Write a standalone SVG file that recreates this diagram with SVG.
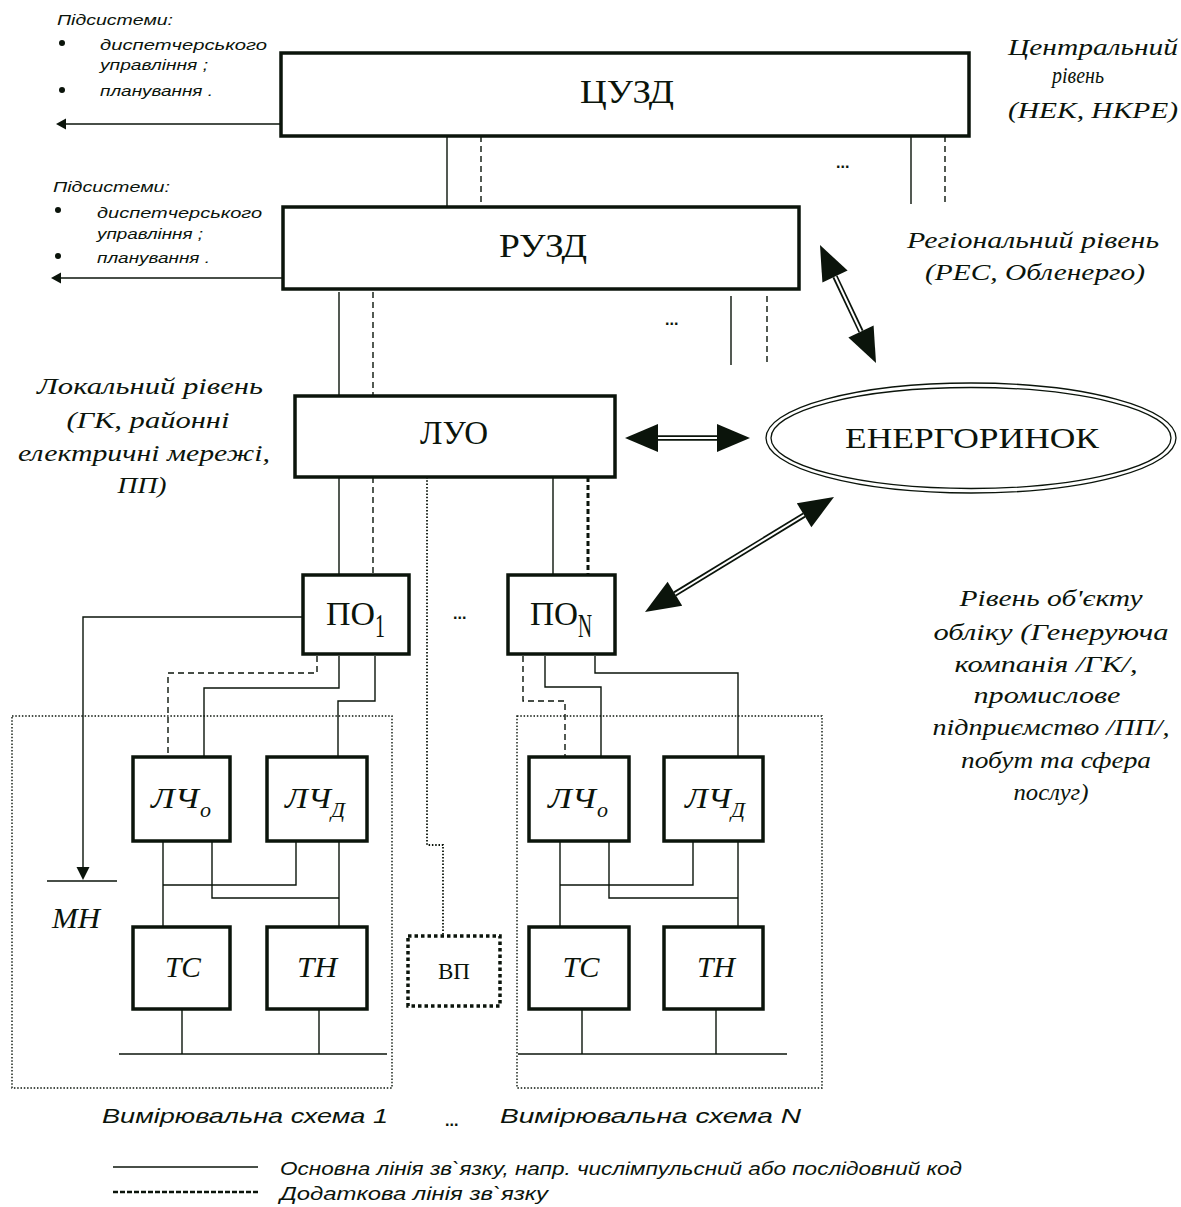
<svg xmlns="http://www.w3.org/2000/svg" width="1181" height="1207" viewBox="0 0 1181 1207">
<style>
.box{fill:#fff;stroke:#0b140b;stroke-width:3.5}
.ln{fill:none;stroke:#0b140b;stroke-width:1.4}
.dash{stroke-dasharray:6 4}
.tdash{stroke-width:3;stroke-dasharray:5 3}
.dot{stroke-dasharray:1.5 1.8}
.vp{fill:#fff;stroke:#0b140b;stroke-width:3.5;stroke-dasharray:3.5 3}
.fill{fill:#0b140b;stroke:none}
.mono{font-family:"Liberation Serif",serif;font-size:34px;fill:#0b140b}
.ser{font-family:"Liberation Serif",serif;fill:#0b140b}
.si{font-family:"Liberation Serif",serif;font-style:italic;font-size:23px;fill:#0b140b}
.bi{font-family:"Liberation Serif",serif;font-style:italic;font-size:30px;fill:#0b140b}
.sub{font-family:"Liberation Serif",serif;font-style:italic;font-size:22px;fill:#0b140b}
.sa{font-family:"Liberation Sans",sans-serif;font-style:italic;fill:#0b140b}
.dots{font-family:"Liberation Sans",sans-serif;font-weight:bold;font-size:16px;fill:#0b140b}
.shaft{stroke:#0b140b;stroke-width:5.5;fill:none}
.shaftw{stroke:#fff;stroke-width:2;fill:none}
</style>

<!-- side labels -->
<g id="labels">
  <text class="si" x="1093" y="55" text-anchor="middle" textLength="170" lengthAdjust="spacingAndGlyphs">Центральний</text>
  <text class="si" x="1078" y="83" text-anchor="middle" textLength="52" lengthAdjust="spacingAndGlyphs">рівень</text>
  <text class="si" x="1093" y="118" text-anchor="middle" textLength="170" lengthAdjust="spacingAndGlyphs">(НЕК, НКРЕ)</text>
  <text class="si" x="1033" y="248" text-anchor="middle" textLength="252" lengthAdjust="spacingAndGlyphs">Регіональний рівень</text>
  <text class="si" x="1035" y="280" text-anchor="middle" textLength="220" lengthAdjust="spacingAndGlyphs">(РЕС, Обленерго)</text>
  <text class="si" x="150" y="394" text-anchor="middle" textLength="226" lengthAdjust="spacingAndGlyphs">Локальний рівень</text>
  <text class="si" x="148" y="428" text-anchor="middle" textLength="163" lengthAdjust="spacingAndGlyphs">(ГК, районні</text>
  <text class="si" x="144" y="461" text-anchor="middle" textLength="252" lengthAdjust="spacingAndGlyphs">електричні мережі,</text>
  <text class="si" x="142" y="493" text-anchor="middle" textLength="49" lengthAdjust="spacingAndGlyphs">ПП)</text>
  <text class="si" x="1051" y="606" text-anchor="middle" textLength="183" lengthAdjust="spacingAndGlyphs">Рівень об'єкту</text>
  <text class="si" x="1051" y="640" text-anchor="middle" textLength="235" lengthAdjust="spacingAndGlyphs">обліку (Генеруюча</text>
  <text class="si" x="1046" y="672" text-anchor="middle" textLength="183" lengthAdjust="spacingAndGlyphs">компанія /ГК/,</text>
  <text class="si" x="1047" y="703" text-anchor="middle" textLength="147" lengthAdjust="spacingAndGlyphs">промислове</text>
  <text class="si" x="1051" y="735" text-anchor="middle" textLength="237" lengthAdjust="spacingAndGlyphs">підприємство /ПП/,</text>
  <text class="si" x="1056" y="768" text-anchor="middle" textLength="190" lengthAdjust="spacingAndGlyphs">побут та сфера</text>
  <text class="si" x="1051" y="800" text-anchor="middle" textLength="75" lengthAdjust="spacingAndGlyphs">послуг)</text>

  <text class="sa" x="57" y="25" font-size="14" textLength="116" lengthAdjust="spacingAndGlyphs">Підсистеми:</text>
  <circle class="fill" cx="62" cy="43" r="3"/>
  <text class="sa" x="100" y="50" font-size="14" textLength="167" lengthAdjust="spacingAndGlyphs">диспетчерського</text>
  <text class="sa" x="100" y="70" font-size="14" textLength="108" lengthAdjust="spacingAndGlyphs">управління ;</text>
  <circle class="fill" cx="62" cy="90" r="3"/>
  <text class="sa" x="100" y="96" font-size="14" textLength="113" lengthAdjust="spacingAndGlyphs">планування .</text>

  <text class="sa" x="53" y="192" font-size="14" textLength="117" lengthAdjust="spacingAndGlyphs">Підсистеми:</text>
  <circle class="fill" cx="58" cy="210" r="3"/>
  <text class="sa" x="97" y="218" font-size="14" textLength="165" lengthAdjust="spacingAndGlyphs">диспетчерського</text>
  <text class="sa" x="97" y="239" font-size="14" textLength="106" lengthAdjust="spacingAndGlyphs">управління ;</text>
  <circle class="fill" cx="58" cy="256" r="3"/>
  <text class="sa" x="97" y="263" font-size="14" textLength="113" lengthAdjust="spacingAndGlyphs">планування .</text>

  <text class="sa" x="102" y="1123" font-size="21" textLength="286" lengthAdjust="spacingAndGlyphs">Вимірювальна схема 1</text>
  <text class="dots" x="445" y="1126">...</text>
  <text class="sa" x="500" y="1123" font-size="21" textLength="301" lengthAdjust="spacingAndGlyphs">Вимірювальна  схема N</text>
  <text class="dots" x="836" y="168">...</text>
  <text class="dots" x="665" y="325">...</text>
  <text class="dots" x="453" y="619">...</text>
</g>

<!-- legend -->
<g id="legend">
  <line class="ln" x1="113" y1="1167" x2="258" y2="1167"/>
  <text class="sa" x="280" y="1175" font-size="18" textLength="682" lengthAdjust="spacingAndGlyphs">Основна лінія зв`язку, напр. числімпульсний або послідовний код</text>
  <line class="ln" x1="113" y1="1192" x2="258" y2="1192" style="stroke-width:2.5;stroke-dasharray:5 2"/>
  <text class="sa" x="280" y="1200" font-size="18" textLength="268" lengthAdjust="spacingAndGlyphs">Додаткова  лінія зв`язку</text>
</g>

<!-- measurement scheme frames -->
<g id="scheme1-frame"><rect class="ln dot" x="12" y="716" width="380" height="372"/></g>
<g id="schemeN-frame"><rect class="ln dot" x="517" y="716" width="305" height="372"/></g>

<!-- connectors -->
<g id="connectors">
  <line class="ln" x1="447" y1="136" x2="447" y2="207"/>
  <line class="ln dash" x1="481" y1="136" x2="481" y2="207"/>
  <line class="ln" x1="911" y1="136" x2="911" y2="204"/>
  <line class="ln dash" x1="945" y1="136" x2="945" y2="202"/>
  <line class="ln" x1="339" y1="292" x2="339" y2="396"/>
  <line class="ln dash" x1="373" y1="292" x2="373" y2="396"/>
  <line class="ln" x1="731" y1="296" x2="731" y2="365"/>
  <line class="ln dash" x1="767" y1="296" x2="767" y2="363"/>
  <line class="ln" x1="339" y1="477" x2="339" y2="575"/>
  <line class="ln dash" x1="373" y1="477" x2="373" y2="575"/>
  <polyline class="ln dot" style="stroke-width:1.8" points="427,477 427,845 443,845 443,936"/>
  <line class="ln" x1="553" y1="477" x2="553" y2="575"/>
  <line class="ln tdash" x1="588" y1="477" x2="588" y2="575"/>
  <line class="ln" x1="281" y1="124" x2="64" y2="124"/>
  <polygon class="fill" points="56,124 66,118.5 66,129.5"/>
  <line class="ln" x1="283" y1="278" x2="59" y2="278"/>
  <polygon class="fill" points="51,278 61,272.5 61,283.5"/>
  <polyline class="ln" points="303,617 83,617 83,870"/>
  <polygon class="fill" points="83,880 76.5,867 89.5,867"/>
  <line class="ln" x1="47" y1="881" x2="117" y2="881"/>
  <polyline class="ln dash" points="317,656 317,673 168,673 168,757"/>
  <polyline class="ln" points="339,656 339,688 204,688 204,757"/>
  <polyline class="ln" points="375,656 375,701 338,701 338,757"/>
  <line class="ln" x1="163" y1="841" x2="163" y2="927"/>
  <polyline class="ln" points="163,885 296,885 296,841"/>
  <polyline class="ln" points="212,841 212,898 339,898"/>
  <line class="ln" x1="339" y1="841" x2="339" y2="927"/>
  <line class="ln" x1="119" y1="1054" x2="387" y2="1054"/>
  <line class="ln" x1="182" y1="1009" x2="182" y2="1054"/>
  <line class="ln" x1="319" y1="1009" x2="319" y2="1054"/>
  <polyline class="ln dash" points="523,656 523,701 565,701 565,757"/>
  <polyline class="ln" points="545,656 545,687 601,687 601,757"/>
  <polyline class="ln" points="595,656 595,673 738,673 738,757"/>
  <line class="ln" x1="560" y1="841" x2="560" y2="927"/>
  <polyline class="ln" points="560,885 693,885 693,841"/>
  <polyline class="ln" points="609,841 609,898 738,898"/>
  <line class="ln" x1="738" y1="841" x2="738" y2="927"/>
  <line class="ln" x1="518" y1="1054" x2="787" y2="1054"/>
  <line class="ln" x1="582" y1="1009" x2="582" y2="1054"/>
  <line class="ln" x1="716" y1="1009" x2="716" y2="1054"/>
  <line class="shaft" x1="835" y1="276.6" x2="861" y2="331.4"/>
  <line class="shaftw" x1="833" y1="272" x2="863" y2="336"/>
  <polygon class="fill" points="820,245 822.4,282.6 847.6,270.6"/>
  <polygon class="fill" points="876,363 848.4,337.4 873.6,325.4"/>
  <line class="shaft" x1="656" y1="438" x2="719" y2="438"/>
  <line class="shaftw" x1="652" y1="438" x2="723" y2="438"/>
  <polygon class="fill" points="625,438 658,424 658,452"/>
  <polygon class="fill" points="750,438 717,424 717,452"/>
  <line class="shaft" x1="674.9" y1="593.8" x2="804.1" y2="515.2"/>
  <line class="shaftw" x1="670" y1="597" x2="809" y2="512"/>
  <polygon class="fill" points="645,612 682.2,605.8 667.6,581.8"/>
  <polygon class="fill" points="834,497 811.4,527.2 796.8,503.2"/>
</g>

<!-- nodes -->
<g id="node-tsuzd">
  <rect class="box" x="281" y="53" width="688" height="83"/>
  <text class="mono" x="627" y="103" text-anchor="middle" textLength="94" lengthAdjust="spacingAndGlyphs">ЦУЗД</text>
</g>
<g id="node-ruzd">
  <rect class="box" x="283" y="207" width="516" height="82"/>
  <text class="mono" x="543" y="257" text-anchor="middle" textLength="88" lengthAdjust="spacingAndGlyphs">РУЗД</text>
</g>
<g id="node-luo">
  <rect class="box" x="295" y="396" width="320" height="81"/>
  <text class="mono" x="454" y="444" text-anchor="middle" textLength="68" lengthAdjust="spacingAndGlyphs">ЛУО</text>
</g>
<g id="node-energorynok">
  <ellipse cx="971" cy="438" rx="205" ry="55" fill="#fff" stroke="#0b140b" stroke-width="1.3"/>
  <ellipse cx="971" cy="438" rx="200" ry="50.5" fill="none" stroke="#0b140b" stroke-width="1.3"/>
  <text class="ser" x="972" y="448" font-size="30" text-anchor="middle" textLength="254" lengthAdjust="spacingAndGlyphs">ЕНЕРГОРИНОК</text>
</g>
<g id="node-po1">
  <rect class="box" x="303" y="575" width="106" height="79"/>
  <text class="mono" x="326" y="625" textLength="49" lengthAdjust="spacingAndGlyphs">ПО</text>
  <text class="mono" x="375" y="637" font-size="22" textLength="10" lengthAdjust="spacingAndGlyphs">1</text>
</g>
<g id="node-poN">
  <rect class="box" x="508" y="575" width="107" height="79"/>
  <text class="mono" x="530" y="625" textLength="48" lengthAdjust="spacingAndGlyphs">ПО</text>
  <text class="mono" x="578" y="637" font-size="22" textLength="14" lengthAdjust="spacingAndGlyphs">N</text>
</g>
<g id="node-vp">
  <rect class="vp" x="408" y="936" width="92" height="70"/>
  <text class="ser" x="454" y="979" font-size="24" text-anchor="middle" textLength="32" lengthAdjust="spacingAndGlyphs">ВП</text>
</g>
<g id="node-lcho-1">
  <rect class="box" x="133" y="757" width="97" height="84"/>
  <text class="bi" x="151" y="808" textLength="48" lengthAdjust="spacingAndGlyphs">ЛЧ</text>
  <text class="sub" x="200" y="817">о</text>
</g>
<g id="node-lchd-1">
  <rect class="box" x="267" y="757" width="100" height="84"/>
  <text class="bi" x="285" y="808" textLength="46" lengthAdjust="spacingAndGlyphs">ЛЧ</text>
  <text class="sub" x="331" y="817" font-size="18">Д</text>
</g>
<g id="node-ts-1">
  <rect class="box" x="133" y="927" width="97" height="82"/>
  <text class="bi" x="183" y="977" text-anchor="middle" textLength="36" lengthAdjust="spacingAndGlyphs">ТС</text>
</g>
<g id="node-tn-1">
  <rect class="box" x="267" y="927" width="100" height="82"/>
  <text class="bi" x="317" y="977" text-anchor="middle" textLength="40" lengthAdjust="spacingAndGlyphs">ТН</text>
</g>
<g id="node-mn">
  <text class="bi" x="52" y="928" textLength="48" lengthAdjust="spacingAndGlyphs">МН</text>
</g>
<g id="node-lcho-N">
  <rect class="box" x="529" y="757" width="100" height="84"/>
  <text class="bi" x="548" y="808" textLength="48" lengthAdjust="spacingAndGlyphs">ЛЧ</text>
  <text class="sub" x="597" y="817">о</text>
</g>
<g id="node-lchd-N">
  <rect class="box" x="664" y="757" width="99" height="84"/>
  <text class="bi" x="685" y="808" textLength="46" lengthAdjust="spacingAndGlyphs">ЛЧ</text>
  <text class="sub" x="731" y="817" font-size="18">Д</text>
</g>
<g id="node-ts-N">
  <rect class="box" x="529" y="927" width="100" height="82"/>
  <text class="bi" x="581" y="977" text-anchor="middle" textLength="37" lengthAdjust="spacingAndGlyphs">ТС</text>
</g>
<g id="node-tn-N">
  <rect class="box" x="664" y="927" width="99" height="82"/>
  <text class="bi" x="716" y="977" text-anchor="middle" textLength="38" lengthAdjust="spacingAndGlyphs">ТН</text>
</g>
</svg>
